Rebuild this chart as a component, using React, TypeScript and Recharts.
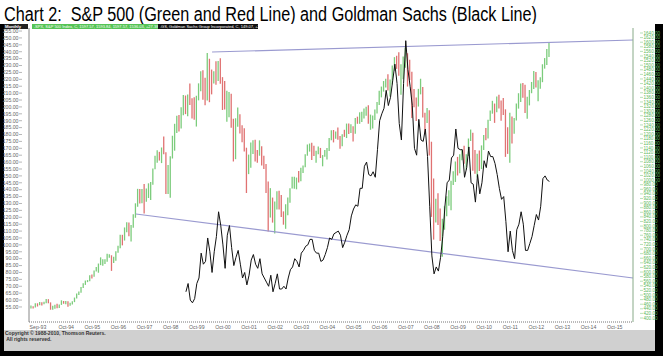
import React from "react";
import { ComposedChart, Bar, Line, XAxis, YAxis, Cell, ReferenceLine } from "recharts";

// S&P 500 monthly bars, Jun-93 .. Apr-13 (month index -3 .. 235, 0 = Sep-93)
const spStartMonth = -3;
const spHigh = [
  454, 451, 464, 464, 470, 469, 471,
  483, 482, 468, 453, 458, 462, 459, 477, 474, 474, 473, 466,
  473, 489, 507, 515, 535, 551, 563, 565, 586, 589, 607, 622,
  637, 664, 656, 656, 680, 677, 673, 666, 690, 714, 762, 762,
  794, 817, 816, 805, 851, 899, 962, 961, 961, 983, 964, 986,
  992, 1051, 1106, 1130, 1123, 1142, 1190, 1121, 1066, 1104, 1193, 1245,
  1280, 1283, 1317, 1370, 1368, 1373, 1420, 1356, 1360, 1367, 1421, 1474,
  1478, 1445, 1553, 1528, 1481, 1474, 1517, 1518, 1530, 1448, 1431, 1389,
  1383, 1376, 1267, 1269, 1316, 1286, 1239, 1226, 1141, 1111, 1164, 1173,
  1176, 1131, 1173, 1147, 1106, 1070, 994, 965, 924, 907, 951, 954,
  935, 864, 895, 924, 965, 1015, 1015, 1011, 1040, 1054, 1063, 1112,
  1155, 1159, 1163, 1150, 1128, 1146, 1140, 1109, 1131, 1140, 1183, 1217,
  1218, 1212, 1229, 1192, 1199, 1219, 1246, 1246, 1243, 1234, 1270, 1276,
  1295, 1297, 1311, 1319, 1326, 1285, 1281, 1307, 1340, 1389, 1407, 1431,
  1441, 1461, 1438, 1499, 1535, 1541, 1556, 1504, 1538, 1576, 1552, 1524,
  1471, 1396, 1359, 1397, 1441, 1405, 1293, 1314, 1304, 1167, 1007, 919,
  943, 876, 832, 888, 930, 956, 997, 1039, 1081, 1101, 1113, 1130,
  1150, 1113, 1181, 1220, 1206, 1131, 1115, 1129, 1151, 1196, 1227, 1263,
  1303, 1345, 1333, 1364, 1371, 1346, 1357, 1308, 1230, 1293, 1277, 1270,
  1333, 1378, 1420, 1422, 1415, 1363, 1392, 1427, 1475, 1470, 1434, 1448,
  1504, 1531, 1570, 1598,
];
const spLow = [
  441, 441, 446, 450, 456, 454, 460,
  464, 464, 436, 436, 440, 442, 443, 457, 462, 460, 449, 453,
  459, 469, 485, 500, 510, 531, 544, 556, 560, 572, 580, 602,
  597, 630, 627, 635, 645, 662, 605, 639, 649, 684, 703, 716,
  737, 773, 756, 733, 793, 836, 884, 898, 899, 855, 906, 922,
  913, 980, 1047, 1076, 1085, 1074, 1112, 940, 939, 923, 1094, 1128,
  1205, 1211, 1225, 1282, 1287, 1278, 1327, 1268, 1263, 1233, 1347, 1387,
  1350, 1326, 1346, 1339, 1373, 1420, 1415, 1431, 1419, 1305, 1307, 1254,
  1274, 1228, 1081, 1091, 1232, 1203, 1165, 1124, 944, 1026, 1054, 1114,
  1081, 1075, 1106, 1063, 1048, 944, 776, 837, 815, 768, 872, 872,
  840, 806, 788, 847, 902, 963, 962, 960, 990, 995, 1031, 1056,
  1106, 1124, 1087, 1105, 1076, 1113, 1096, 1060, 1102, 1090, 1127, 1173,
  1164, 1180, 1176, 1136, 1147, 1188, 1183, 1201, 1205, 1168, 1202, 1245,
  1245, 1253, 1268, 1280, 1245, 1219, 1224, 1262, 1290, 1327, 1360, 1385,
  1403, 1390, 1364, 1416, 1476, 1484, 1454, 1371, 1439, 1489, 1407, 1436,
  1270, 1317, 1257, 1320, 1373, 1272, 1200, 1248, 1107, 840, 741, 815,
  805, 735, 667, 784, 843, 888, 869, 979, 992, 1020, 1030, 1086,
  1071, 1045, 1105, 1170, 1041, 1028, 1011, 1040, 1048, 1131, 1173, 1181,
  1257, 1289, 1249, 1295, 1311, 1258, 1283, 1101, 1114, 1075, 1159, 1202,
  1259, 1311, 1340, 1358, 1292, 1267, 1325, 1378, 1396, 1403, 1343, 1398,
  1426, 1485, 1501, 1536,
];
const spClose = [
  450, 448, 464, 459, 468, 462, 467,
  482, 467, 446, 451, 457, 444, 458, 476, 463, 472, 454, 459,
  470, 487, 501, 515, 533, 545, 562, 562, 584, 582, 605, 616,
  636, 640, 646, 654, 669, 671, 640, 652, 687, 705, 757, 741,
  786, 791, 757, 801, 848, 885, 954, 900, 947, 915, 955, 970,
  980, 1049, 1102, 1112, 1091, 1134, 1121, 957, 1017, 1099, 1164, 1229,
  1280, 1238, 1286, 1335, 1302, 1373, 1329, 1320, 1283, 1363, 1389, 1469,
  1395, 1366, 1499, 1452, 1421, 1455, 1431, 1518, 1437, 1429, 1315, 1320,
  1366, 1240, 1160, 1250, 1256, 1224, 1211, 1134, 1041, 1060, 1140, 1148,
  1130, 1107, 1147, 1077, 1067, 990, 912, 916, 815, 886, 936, 880,
  856, 841, 848, 917, 964, 975, 990, 1008, 996, 1051, 1058, 1112,
  1131, 1145, 1126, 1107, 1121, 1141, 1102, 1104, 1115, 1130, 1174, 1212,
  1181, 1204, 1181, 1157, 1192, 1191, 1234, 1220, 1229, 1207, 1250, 1248,
  1280, 1281, 1295, 1311, 1270, 1270, 1277, 1304, 1336, 1378, 1401, 1418,
  1438, 1407, 1421, 1482, 1531, 1503, 1455, 1474, 1527, 1549, 1481, 1468,
  1379, 1331, 1323, 1386, 1400, 1280, 1267, 1283, 1166, 969, 896, 903,
  826, 735, 798, 873, 919, 919, 988, 1021, 1057, 1036, 1096, 1115,
  1074, 1105, 1169, 1187, 1089, 1031, 1102, 1049, 1141, 1183, 1181, 1258,
  1286, 1327, 1326, 1364, 1345, 1321, 1292, 1219, 1131, 1253, 1247, 1258,
  1312, 1366, 1409, 1398, 1310, 1362, 1379, 1407, 1441, 1412, 1416, 1426,
  1498, 1515, 1569, 1598,
];

// Goldman Sachs monthly closes, May-99 .. Apr-13 (month index 68 .. 235)
const gsStartMonth = 68;
const gsClose = [
  66, 72, 60, 58, 61, 72, 76, 94,
  86, 88, 105, 95, 80, 95, 106, 124, 114, 100, 83, 107,
  114, 98, 85, 91, 96, 86, 76, 80, 71, 78, 89, 93,
  86, 83, 90, 79, 76, 73, 70, 78, 66, 72, 79, 68,
  68, 70, 68, 76, 82, 84, 90, 88, 84, 94, 96, 99,
  100, 104, 104, 96, 94, 94, 88, 89, 93, 98, 105, 104,
  108, 109, 110, 107, 98, 102, 107, 111, 121, 126, 129, 128,
  141, 141, 157, 160, 151, 150, 153, 149, 169, 190, 195, 199,
  212, 201, 207, 219, 231, 217, 188, 176, 217, 248, 227, 215,
  201, 170, 165, 191, 176, 175, 184, 164, 128, 92, 79, 84,
  81, 91, 106, 128, 145, 147, 163, 165, 184, 170, 169, 169,
  149, 156, 171, 145, 144, 131, 151, 137, 145, 161, 156, 168,
  164, 164, 159, 151, 141, 133, 135, 117, 95, 110, 96, 90,
  111, 115, 124, 115, 96, 96, 101, 106, 114, 122, 118, 128,
  148, 150, 147, 146,
];

// x-axis tick labels and their month index
const xTickLabels = [
  "Sep-93", "Oct-94", "Oct-95", "Oct-96", "Oct-97", "Oct-98", "Oct-99", "Oct-00",
  "Oct-01", "Oct-02", "Oct-03", "Oct-04", "Oct-05", "Oct-06", "Oct-07", "Oct-08",
  "Oct-09", "Oct-10", "Oct-11", "Oct-12", "Oct-13", "Oct-14", "Oct-15",
];
const xTickMonths = [0, 13, 25, 37, 49, 61, 73, 85, 97, 109, 121, 133, 145, 157, 169, 181, 193, 205, 217, 229, 241, 253, 265];

const leftTicks = [
  55, 60, 65, 70, 75, 80, 85, 90, 95, 100, 105, 110, 115, 120, 125, 130, 135, 140, 145, 150,
  155, 160, 165, 170, 175, 180, 185, 190, 195, 200, 205, 210, 215, 220, 225, 230, 235, 240,
  245, 250, 255,
];
const rightTicks = [
  400, 420, 440, 460, 480, 500, 520, 540, 560, 580, 600, 620, 640, 660, 680, 700, 720, 740,
  760, 780, 800, 820, 840, 860, 880, 900, 920, 940, 960, 980, 1000, 1020, 1040, 1060, 1080,
  1100, 1120, 1140, 1160, 1180, 1200, 1220, 1240, 1260, 1280, 1300, 1320, 1340, 1360, 1380,
  1400, 1420, 1440, 1460, 1480, 1500, 1520, 1540, 1560, 1580, 1600, 1620, 1640,
];

// trend lines (month index, left-axis value)
const upperTrend = [{ x: 80, y: 239.8 }, { x: 273.4, y: 248.5 }];
const lowerTrend = [{ x: 45, y: 122.4 }, { x: 273.4, y: 76 }];

const data = spHigh.map((h, i) => {
  const m = spStartMonth + i;
  const gi = m - gsStartMonth;
  return {
    m,
    range: [spLow[i], h],
    up: i === 0 ? true : spClose[i] >= spClose[i - 1],
    gs: gi >= 0 && gi < gsClose.length ? gsClose[gi] : null,
  };
});

const FONT = "'Liberation Sans', Arial, sans-serif";

const LeftTick = (props: any) => {
  const { x, y, payload } = props;
  return (
    <g>
      <line x1={x - 2} x2={x + 1} y1={y} y2={y} stroke="#888" strokeWidth={0.6} />
      <text x={x - 2.5} y={y + 1.8} textAnchor="end" fontSize={5.2} fill="#666" fontFamily={FONT}>
        {payload.value.toFixed(2)}
      </text>
    </g>
  );
};
const RightTick = (props: any) => {
  const { x, y, payload } = props;
  return (
    <g>
      <line x1={x - 1} x2={x + 2} y1={y} y2={y} stroke="#8c8" strokeWidth={0.6} />
      <text x={x + 2.5} y={y + 1.6} textAnchor="start" fontSize={4.6} fill="#5cb85c" fontFamily={FONT}>
        {payload.value.toFixed(2)}
      </text>
    </g>
  );
};
const BottomTick = (props: any) => {
  const { x, payload } = props;
  const idx = xTickMonths.indexOf(payload.value);
  return (
    <text x={x} y={328.5} textAnchor="middle" fontSize={5.2} fill="#666" fontFamily={FONT}>
      {idx >= 0 ? xTickLabels[idx] : ""}
    </text>
  );
};

export default function App() {
  return (
    <div style={{ position: "fixed", left: 0, top: 0, width: 663, height: 356, background: "#000", overflow: "hidden" }}>
      {/* title area */}
      <div style={{ position: "absolute", left: 0, top: 0, width: 663, height: 24, background: "#fff" }} />
      <svg style={{ position: "absolute", left: 0, top: 0 }} width={663} height={24}>
        <text x={4} y={21} fontSize={20} fontFamily="'Liberation Sans Narrow', 'Arial Narrow', 'Liberation Sans', sans-serif" fill="#000" textLength={533} lengthAdjust="spacingAndGlyphs" style={{ whiteSpace: "pre" }}>
          {"Chart 2:  S&P 500 (Green and Red Line) and Goldman Sachs (Black Line)"}
        </text>
      </svg>
      {/* chart panel */}
      <div style={{ position: "absolute", left: 4, top: 24, width: 651, height: 306, background: "#fff" }} />
      {/* footer */}
      <div style={{ position: "absolute", left: 4, top: 330, width: 651, height: 21, background: "#d0d0d0" }} />
      <div style={{ position: "absolute", left: 5, top: 331, fontFamily: FONT, fontSize: 5, fontWeight: "bold", color: "#333", lineHeight: "5.5px", whiteSpace: "pre" }}>
        <div>Copyright © 1988-2010, Thomson Reuters.</div>
        <div> All rights reserved.</div>
      </div>
      {/* legend strip */}
      <svg style={{ position: "absolute", left: 0, top: 24 }} width={663} height={6}>
        <rect x={4} y={0} width={24} height={5} fill="#222" />
        <text x={5} y={4} fontSize={4.2} fill="#fff" fontFamily={FONT} fontWeight="bold">Monthly</text>
        <rect x={32} y={0} width={126} height={5} fill="#55c455" />
        <text x={34} y={4} fontSize={4} fill="#fff" fontFamily={FONT}>.SPX, S&amp;P 500 Index, C, 1597.57, 1593.84, 1597.57, 1536.03, +27.38</text>
        <rect x={158} y={0} width={100} height={5} fill="#111" />
        <text x={160} y={4} fontSize={4} fill="#fff" fontFamily={FONT}>.GS, Goldman Sachs Group Incorporated, C, 149.07, +2.13</text>
      </svg>
      <div style={{ position: "absolute", left: 0, top: 0 }}>
        <ComposedChart width={663} height={356} data={data} margin={{ top: 28, right: 8, bottom: 22, left: 4 }}>
          <XAxis
            dataKey="m"
            type="number"
            domain={[-4.1, 273.4]}
            allowDataOverflow
            ticks={xTickMonths}
            interval={0}
            tick={<BottomTick />}
            tickLine={false}
            tickSize={0}
            axisLine={{ stroke: "#777", strokeDasharray: "1 1" }}
            height={12}
          />
          <YAxis
            yAxisId="L"
            orientation="left"
            type="number"
            domain={[44.1, 257.2]}
            allowDataOverflow
            ticks={leftTicks}
            interval={0}
            width={25}
            tick={<LeftTick />}
            tickLine={false}
            axisLine={{ stroke: "#888" }}
          />
          <YAxis
            yAxisId="R"
            orientation="right"
            type="number"
            domain={[382.6, 1661.8]}
            allowDataOverflow
            ticks={rightTicks}
            interval={0}
            width={22}
            tick={<RightTick />}
            tickLine={false}
            axisLine={{ stroke: "#8a8" }}
          />
          <Bar yAxisId="R" dataKey="range" barSize={1.3} isAnimationActive={false}>
            {data.map((d, i) => (
              <Cell key={i} fill={d.up ? "#7ccc7c" : "#e07272"} />
            ))}
          </Bar>
          <ReferenceLine yAxisId="L" segment={upperTrend} stroke="#9a9ad0" strokeWidth={1.2} />
          <ReferenceLine yAxisId="L" segment={lowerTrend} stroke="#9a9ad0" strokeWidth={1.2} />
          <Line
            yAxisId="L"
            dataKey="gs"
            type="linear"
            stroke="#111"
            strokeWidth={1}
            dot={false}
            connectNulls={false}
            isAnimationActive={false}
          />
        </ComposedChart>
      </div>
    </div>
  );
}
